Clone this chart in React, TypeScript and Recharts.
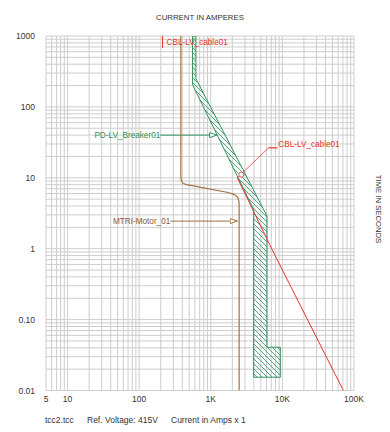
import { ScatterChart, Scatter, XAxis, YAxis, CartesianGrid, ReferenceLine, ReferenceDot } from 'recharts';

const GREEN = '#2f9360';
const BROWN = '#a0703f';
const RED = '#e8322f';
const GRID = '#cdcdcd';
const TEXT = '#333333';

// axis labels (log scales)
const xMajorTicks = [5, 10, 100, 1000, 10000, 100000];
const xMajorLabels = ['5', '10', '100', '1K', '10K', '100K'];
const yMajorTicks = [0.01, 0.1, 1, 10, 100, 1000];
const yMajorLabels = ['0.01', '0.10', '1', '10', '100', '1000'];

// PD-LV_Breaker01 tolerance band (outline, clockwise)
const breakerCurrent = [555, 555, 3970, 3970, 9360, 9360, 6100, 6100, 620, 620, 555];
const breakerTime = [1000, 206, 3.58, 0.0154, 0.0154, 0.0407, 0.0407, 2.88, 250, 1000, 1000];

// MTRI-Motor_01 starting curve
const motorCurrent = [382, 382, 388, 410, 460, 1750, 2150, 2380, 2480, 2490, 2490];
const motorTime = [1000, 10.8, 9.0, 8.3, 8.0, 6.2, 5.8, 5.3, 4.6, 4.0, 0.01];

// CBL-LV_cable01 damage curve
const cableCurrent = [2350, 7150, 71000];
const cableTime = [10, 0.98, 0.01];

// label leaders
const breakerLeader = { from: 197, to: 1230, time: 40 };
const motorLeader = { from: 272, to: 2370, time: 2.45 };
const cableLeaderCurrent = [2350, 6430, 8500];
const cableLeaderTime = [10, 26.5, 26.5];
const cableMarker = { i: 2672, t: 11.1 };
const cableTop = { i: 212, tFrom: 1000, tTo: 680 };

const toPoints = (cur: number[], time: number[]) => cur.map((i, k) => ({ i, t: time[k] }));
const breakerPoints = toPoints(breakerCurrent, breakerTime);
const motorPoints = toPoints(motorCurrent, motorTime);
const cablePoints = toPoints(cableCurrent, cableTime);

// 1..9 multiples per decade for the log grid
function logGrid(from: number, to: number) {
  const out: number[] = [];
  for (let d = Math.floor(Math.log10(from)); d <= Math.ceil(Math.log10(to)); d++) {
    for (let m = 1; m <= 9; m++) {
      const v = Number((m * Math.pow(10, d)).toPrecision(6));
      if (v >= from && v <= to) out.push(v);
    }
  }
  return out;
}
const xGrid = logGrid(5, 100000);
const yGrid = logGrid(0.01, 1000);

const fmtX = (v: number) => {
  const k = xMajorTicks.indexOf(v);
  return k >= 0 ? xMajorLabels[k] : '';
};
const fmtY = (v: number) => {
  const k = yMajorTicks.indexOf(v);
  return k >= 0 ? yMajorLabels[k] : '';
};

const noDot = () => <g />;
const arrow = (id: string) => (p: any) => (
  <line x1={p.x1} y1={p.y1} x2={p.x2} y2={p.y2} stroke={p.stroke} strokeWidth={1} markerEnd={`url(#${id})`} />
);

export default function App() {
  return (
    <div
      style={{
        position: 'absolute',
        left: 0,
        top: 0,
        width: 390,
        height: 432,
        background: '#fff',
        fontFamily: '"Liberation Sans", Arial, sans-serif',
      }}
    >
      <ScatterChart width={390} height={432} margin={{ top: 36, right: 36, bottom: 21.5, left: 6 }}>
        <defs>
          <pattern id="breakerHatch" width="5" height="5" patternUnits="userSpaceOnUse">
            <path d="M0,0 L5,5 M-1,4 L1,6 M4,-1 L6,1" stroke={GREEN} strokeWidth={0.8} />
          </pattern>
          <marker id="arrowGreen" viewBox="0 0 8 6" refX="8" refY="3" markerWidth="8" markerHeight="6" markerUnits="userSpaceOnUse" orient="auto">
            <path d="M0.5,0.5 L7.5,3 L0.5,5.5 Z" fill="#fff" stroke={GREEN} />
          </marker>
          <marker id="arrowBrown" viewBox="0 0 8 6" refX="8" refY="3" markerWidth="8" markerHeight="6" markerUnits="userSpaceOnUse" orient="auto">
            <path d="M0.5,0.5 L7.5,3 L0.5,5.5 Z" fill="#fff" stroke={BROWN} />
          </marker>
        </defs>

        <CartesianGrid stroke={GRID} strokeWidth={1} />
        <XAxis
          type="number"
          dataKey="i"
          scale="log"
          domain={[5, 100000]}
          ticks={xGrid}
          interval={0}
          tickFormatter={fmtX}
          axisLine={false}
          tickLine={false}
          tickSize={2}
          tickMargin={3}
          height={20}
          tick={{ fill: TEXT, fontSize: 8.5 }}
          allowDataOverflow
        />
        <YAxis
          type="number"
          dataKey="t"
          scale="log"
          domain={[0.01, 1000]}
          ticks={yGrid}
          interval={0}
          tickFormatter={fmtY}
          axisLine={false}
          tickLine={false}
          tickSize={6}
          tickMargin={5}
          width={40}
          tick={{ fill: TEXT, fontSize: 8.5 }}
          allowDataOverflow
        />

        <Scatter
          data={breakerPoints}
          line={{ stroke: GREEN, strokeWidth: 1, fill: 'url(#breakerHatch)' }}
          shape={noDot}
          isAnimationActive={false}
        />
        <Scatter
          data={motorPoints}
          line={{ stroke: BROWN, strokeWidth: 1.2 }}
          shape={noDot}
          isAnimationActive={false}
        />
        <Scatter
          data={cablePoints}
          line={{ stroke: RED, strokeWidth: 1 }}
          shape={noDot}
          isAnimationActive={false}
        />
        <Scatter
          data={toPoints(cableLeaderCurrent, cableLeaderTime)}
          line={{ stroke: RED, strokeWidth: 0.8 }}
          shape={noDot}
          isAnimationActive={false}
        />

        <ReferenceLine
          segment={[{ x: breakerLeader.from, y: breakerLeader.time }, { x: breakerLeader.to, y: breakerLeader.time }]}
          stroke={GREEN}
          shape={arrow('arrowGreen')}
          label={{ value: 'PD-LV_Breaker01', position: 'left', offset: 0, fill: GREEN, fontSize: 8.2 }}
        />
        <ReferenceLine
          segment={[{ x: motorLeader.from, y: motorLeader.time }, { x: motorLeader.to, y: motorLeader.time }]}
          stroke={BROWN}
          shape={arrow('arrowBrown')}
          label={{ value: 'MTRI-Motor_01', position: 'left', offset: 0, fill: '#8a5a2e', fontSize: 8.2 }}
        />
        <ReferenceLine
          segment={[{ x: cableLeaderCurrent[1], y: cableLeaderTime[1] }, { x: cableLeaderCurrent[2], y: cableLeaderTime[2] }]}
          stroke={RED}
          strokeWidth={0.8}
          label={{ value: 'CBL-LV_cable01', position: 'right', offset: 1, dy: -4, fill: RED, fontSize: 8.2 }}
        />
        <ReferenceLine
          segment={[{ x: cableTop.i, y: cableTop.tFrom }, { x: cableTop.i, y: cableTop.tTo }]}
          stroke={RED}
          strokeWidth={1}
          label={{ value: 'CBL-LV_cable01', position: 'right', offset: 4, fill: RED, fontSize: 8.2 }}
        />
        <ReferenceDot x={cableMarker.i} y={cableMarker.t} r={2.5} fill="#fff" stroke={RED} strokeWidth={0.8} />

        <text x={200} y={20} textAnchor="middle" fontSize={7.8} fill={TEXT}>
          CURRENT IN AMPERES
        </text>
        <text transform="translate(378,209) rotate(90)" textAnchor="middle" dominantBaseline="central" fontSize={7.7} fill={TEXT}>
          TIME IN SECONDS
        </text>
        <text y={423} fontSize={8.5} fill={TEXT}>
          <tspan x={45}>tcc2.tcc</tspan>
          <tspan x={87}>Ref. Voltage: 415V</tspan>
          <tspan x={171}>Current in Amps x 1</tspan>
        </text>
      </ScatterChart>
    </div>
  );
}
